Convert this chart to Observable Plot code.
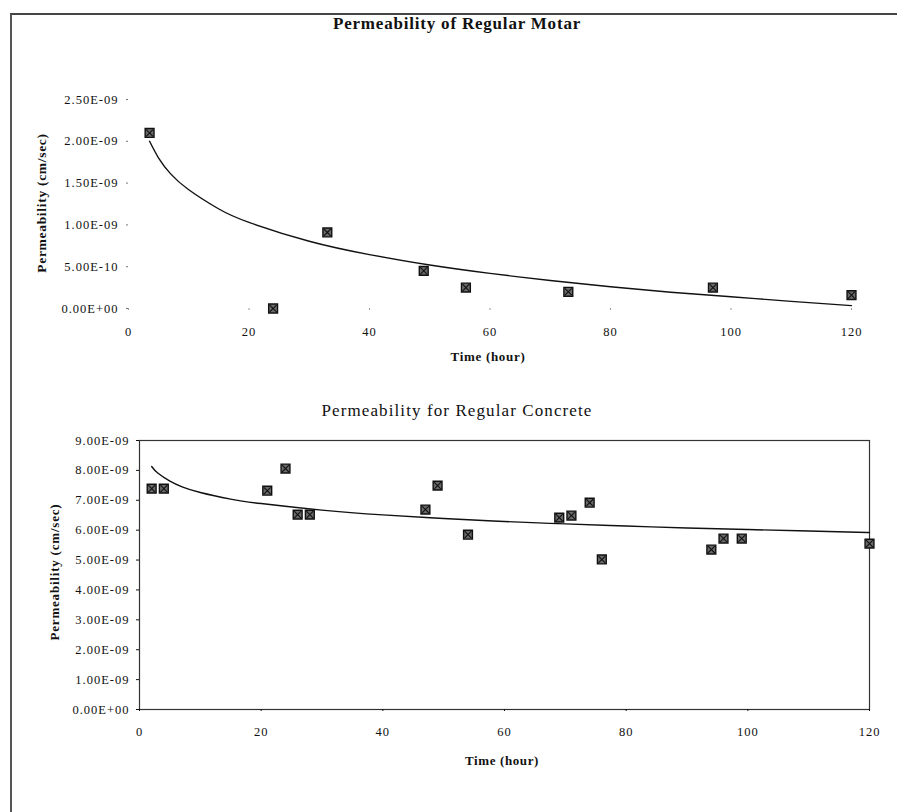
<!DOCTYPE html>
<html>
<head>
<meta charset="utf-8">
<script src="https://cdn.jsdelivr.net/npm/d3@7"></script>
<script src="https://cdn.jsdelivr.net/npm/@observablehq/plot@0.6"></script>
<style>
  html, body { margin: 0; padding: 0; background: #fff; }
  #page { position: relative; width: 897px; height: 812px; overflow: hidden; font-family: "Liberation Serif", "Times New Roman", serif; color: #111; }
  #border { position: absolute; left: 10px; top: 13px; width: 900px; height: 820px; border-left: 2px solid #555; border-top: 2px solid #444; }
  .lbl { position: absolute; white-space: nowrap; transform: translate(-50%, -50%); }
  .rot { transform: translate(-50%, -50%) rotate(-90deg); }
  .chart { position: absolute; left: 0; }
</style>
</head>
<body>
<div id="page">
  <div id="border"></div>
  <div id="topChart" class="chart" style="top:0px"></div>
  <div id="bottomChart" class="chart" style="top:380px"></div>
  <div class="lbl" style="left:457px; top:24px; font-size:17px; font-weight:bold; letter-spacing:0.8px;">Permeability of Regular Motar</div>
  <div class="lbl rot" style="left:42px; top:203px; font-size:13.5px; font-weight:bold; letter-spacing:0.7px;">Permeability (cm/sec)</div>
  <div class="lbl" style="left:488px; top:357px; font-size:13px; font-weight:bold; letter-spacing:0.7px;">Time (hour)</div>
  <div class="lbl" style="left:457px; top:411px; font-size:17px; letter-spacing:1.1px;">Permeability for Regular Concrete</div>
  <div class="lbl rot" style="left:55px; top:572px; font-size:13px; font-weight:bold; letter-spacing:0.8px;">Permeability (cm/sec)</div>
  <div class="lbl" style="left:502px; top:761px; font-size:13px; font-weight:bold; letter-spacing:0.6px;">Time (hour)</div>
</div>
<script>
// ---- Regular mortar ----
const mortarHours = [3.5, 24, 33, 49, 56, 73, 97, 120];
const mortarPerm = [2.1e-9, 0, 0.91e-9, 0.45e-9, 0.25e-9, 0.2e-9, 0.25e-9, 0.16e-9];
// logarithmic trendline
const mortarTrendHours = [3.5, 5, 7, 10, 15, 20, 30, 40, 50, 60, 70, 80, 90, 100, 110, 120];
const mortarTrendPerm = [2.0e-9, 1.80e-9, 1.61e-9, 1.42e-9, 1.19e-9, 1.03e-9, 0.805e-9, 0.645e-9, 0.52e-9, 0.42e-9, 0.335e-9, 0.26e-9, 0.195e-9, 0.14e-9, 0.085e-9, 0.035e-9];
const mortarYTicks = [0, 0.5e-9, 1.0e-9, 1.5e-9, 2.0e-9, 2.5e-9];
const mortarYTickLabels = ["0.00E+00", "5.00E-10", "1.00E-09", "1.50E-09", "2.00E-09", "2.50E-09"];

// ---- Regular concrete ----
const concreteHours = [2, 4, 21, 24, 26, 28, 47, 49, 54, 69, 71, 74, 76, 94, 96, 99, 120];
const concretePerm = [7.39e-9, 7.39e-9, 7.32e-9, 8.06e-9, 6.52e-9, 6.52e-9, 6.69e-9, 7.49e-9, 5.85e-9, 6.42e-9, 6.49e-9, 6.92e-9, 5.02e-9, 5.35e-9, 5.72e-9, 5.72e-9, 5.55e-9];
const concreteTrendHours = [2, 3, 5, 7, 10, 15, 20, 30, 40, 50, 60, 70, 80, 90, 100, 110, 120];
const concreteTrendPerm = [8.13e-9, 7.91e-9, 7.64e-9, 7.45e-9, 7.26e-9, 7.04e-9, 6.89e-9, 6.67e-9, 6.51e-9, 6.39e-9, 6.29e-9, 6.21e-9, 6.14e-9, 6.07e-9, 6.02e-9, 5.97e-9, 5.92e-9];
const concreteYTicks = [0, 1e-9, 2e-9, 3e-9, 4e-9, 5e-9, 6e-9, 7e-9, 8e-9, 9e-9];
const concreteYTickLabels = ["0.00E+00", "1.00E-09", "2.00E-09", "3.00E-09", "4.00E-09", "5.00E-09", "6.00E-09", "7.00E-09", "8.00E-09", "9.00E-09"];

const xTicks = [0, 20, 40, 60, 80, 100, 120];

const mortar = mortarHours.map((h, i) => ({hour: h, perm: mortarPerm[i]}));
const mortarTrend = mortarTrendHours.map((h, i) => ({hour: h, perm: mortarTrendPerm[i]}));
const concrete = concreteHours.map((h, i) => ({hour: h, perm: concretePerm[i]}));
const concreteTrend = concreteTrendHours.map((h, i) => ({hour: h, perm: concreteTrendPerm[i]}));

function markers(data) {
  return [
    Plot.dot(data, {x: "hour", y: "perm", symbol: "square", r: 5, fill: "#6a6a6a", stroke: "#111", strokeWidth: 1.4}),
    Plot.dot(data, {x: "hour", y: "perm", symbol: "times", r: 3.2, stroke: "#111", strokeWidth: 1.1})
  ];
}

const fontStyle = {fontFamily: "'Liberation Serif', 'Times New Roman', serif", fontSize: "12.5px", letterSpacing: "1px", color: "#111", background: "transparent", overflow: "visible"};

const topPlot = Plot.plot({
  width: 897, height: 380,
  marginLeft: 128, marginRight: 46, marginTop: 99, marginBottom: 72,
  style: fontStyle,
  x: {domain: [0, 120]},
  y: {domain: [0, 2.5e-9]},
  marks: [
    Plot.axisY({ticks: mortarYTicks, tickFormat: (d, i) => mortarYTickLabels[i], tickSize: 2, tickPadding: 8, stroke: "#777", label: null}),
    Plot.axisX({ticks: xTicks, tickFormat: d => String(d), tickSize: 2, tickPadding: 17, stroke: "#999", label: null}),
    Plot.line(mortarTrend, {x: "hour", y: "perm", curve: "natural", stroke: "#111", strokeWidth: 1.4}),
    ...markers(mortar)
  ]
});
document.getElementById("topChart").appendChild(topPlot);

const bottomPlot = Plot.plot({
  width: 897, height: 432,
  marginLeft: 139, marginRight: 28, marginTop: 60, marginBottom: 103,
  style: fontStyle,
  x: {domain: [0, 120]},
  y: {domain: [0, 9e-9]},
  marks: [
    Plot.frame({stroke: "#333", strokeWidth: 1.2}),
    Plot.axisY({ticks: concreteYTicks, tickFormat: (d, i) => concreteYTickLabels[i], tickSize: 3, tickPadding: 7, label: null}),
    Plot.axisX({ticks: xTicks, tickFormat: d => String(d), tickSize: 2, tickPadding: 16, label: null}),
    Plot.line(concreteTrend, {x: "hour", y: "perm", curve: "natural", stroke: "#111", strokeWidth: 1.4}),
    ...markers(concrete)
  ]
});
document.getElementById("bottomChart").appendChild(bottomPlot);
</script>
</body>
</html>
